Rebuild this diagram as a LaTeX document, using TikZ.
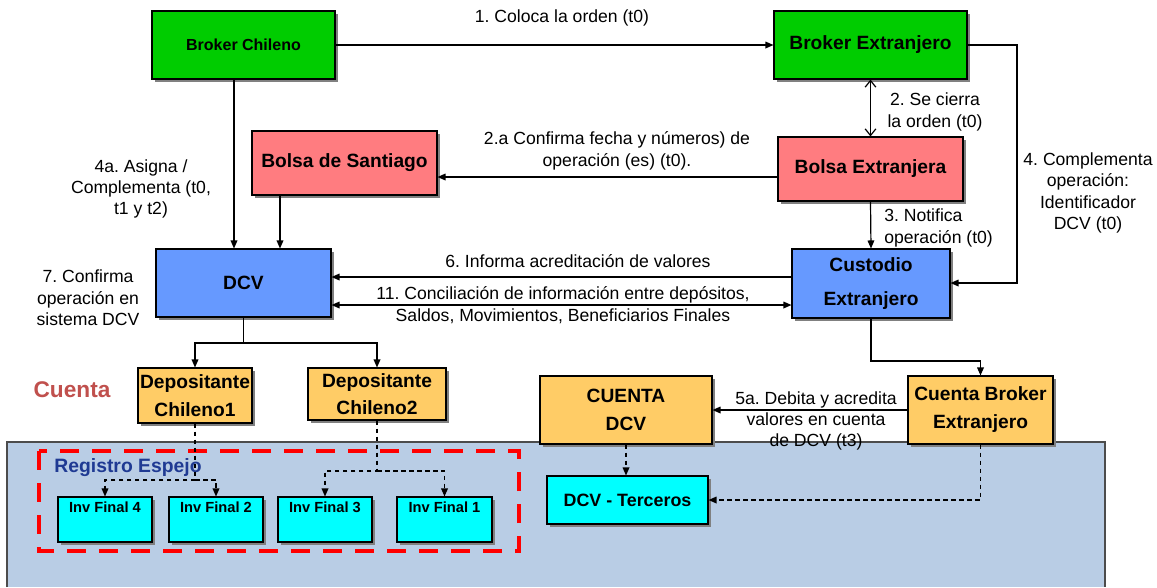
\documentclass[tikz,border=0pt]{standalone}
\usepackage{fontspec}
\setmainfont{Liberation Sans}
\frenchspacing
\usetikzlibrary{arrows.meta,shadows,calc}
\definecolor{cgreen}{HTML}{00CC00}
\definecolor{cpink}{HTML}{FF7C80}
\definecolor{cblue}{HTML}{6699FF}
\definecolor{corange}{HTML}{FFCC66}
\definecolor{ccyan}{HTML}{00FFFF}
\definecolor{cbg}{HTML}{B9CDE5}
\definecolor{cred}{HTML}{FF0000}
\definecolor{ccuenta}{HTML}{C0504D}
\definecolor{cregistro}{HTML}{1F3A93}
\begin{document}
\begin{tikzpicture}[x=0.75pt,y=-0.75pt,
  box/.style={draw=black, line width=0.8pt, inner sep=0pt, align=center,
    drop shadow={shadow xshift=2.6pt, shadow yshift=-2.6pt, fill=black!50, opacity=1},
    font=\bfseries\fontsize{14.4}{21}\selectfont},
  lbl/.style={inner sep=0pt, align=center, font=\fontsize{13.2}{16}\selectfont},
  arr/.style={-{Triangle[length=6pt,width=5pt]}, line width=0.9pt},
  darr/.style={{Triangle[length=6pt,width=5pt]}-{Triangle[length=6pt,width=5pt]}, line width=0.9pt},
  oarr/.style={{Straight Barb[length=5pt,width=8pt]}-{Straight Barb[length=5pt,width=8pt]}, line width=0.9pt},
  dsh/.style={-{Triangle[length=6pt,width=5pt]}, line width=0.9pt, dash pattern=on 3.5pt off 2.5pt},
  inv/.style={box, fill=ccyan, font=\bfseries\fontsize{11}{13}\selectfont, text height=11.6pt, text depth=22.1pt, minimum width=70.5pt, minimum height=33.75pt},
]
\useasboundingbox (0,0) rectangle (1157,587);
% background area
\fill[cbg] (7,442) rectangle (1105,587);
\draw[line width=0.8pt, black!70] (7,587) -- (7,442) -- (1105,442) -- (1105,587);
\draw[cred, line width=3pt, dash pattern=on 14pt off 10pt] (39,451) rectangle (519,551);

% boxes
\node[box, fill=cgreen, minimum width=137.25pt, minimum height=51pt, font=\bfseries\fontsize{12}{14}\selectfont] (bc) at (243.5,45) {Broker Chileno};
\node[box, fill=cgreen, minimum width=144.75pt, minimum height=51pt] (bext) at (870.5,45) {Broker Extranjero};
\node[box, fill=cpink, minimum width=138.75pt, minimum height=48pt] (bsan) at (344.5,163) {Bolsa de Santiago};
\node[box, fill=cpink, minimum width=138.75pt, minimum height=48pt] (bex) at (870.5,169) {Bolsa Extranjera};
\node[box, fill=cblue, minimum width=131.25pt, minimum height=51pt] (dcv) at (243.5,283) {DCV};
\node[box, fill=cblue, minimum width=118.5pt, minimum height=51.75pt, font=\bfseries\fontsize{14.4}{26}\selectfont] (cus) at (871,283.5) {Custodio\\Extranjero};
\node[box, fill=corange, minimum width=85.5pt, minimum height=41.25pt, font=\bfseries\fontsize{14.4}{21.5}\selectfont] (dep1) at (195,395.5) {Depositante\\Chileno1};
\node[box, fill=corange, minimum width=103.5pt, minimum height=39pt, font=\bfseries\fontsize{14.4}{20.5}\selectfont] (dep2) at (377,394) {Depositante\\Chileno2};
\node[box, fill=corange, minimum width=129pt, minimum height=51pt] (cdcv) at (626,410) {CUENTA\\DCV};
\node[box, fill=corange, minimum width=108.75pt, minimum height=51pt] (cbe) at (980.5,410) {Cuenta Broker\\Extranjero};
\node[box, fill=ccyan, minimum width=120.75pt, minimum height=36pt, font=\bfseries\fontsize{13.4}{16}\selectfont] (ter) at (627.5,500) {DCV - Terceros};
\node[inv] (inv4) at (105,519.5) {Inv Final 4};
\node[inv] (inv2) at (216,519.5) {Inv Final 2};
\node[inv] (inv3) at (325,519.5) {Inv Final 3};
\node[inv, minimum width=71.25pt] (inv1) at (444.5,519.5) {Inv Final 1};

% free texts
\node[inner sep=0pt, text=ccuenta, font=\bfseries\fontsize{17}{20}\selectfont] (cuenta) at (72,390) {Cuenta};
\node[inner sep=0pt, text=cregistro, font=\bfseries\fontsize{14.5}{17}\selectfont] (reg) at (128,468) {Registro Espejo};

% labels
\node[lbl] (l1) at (562,18) {1. Coloca la orden (t0)};
\node[lbl] (l2) at (935,112) {2. Se cierra\\la orden (t0)};
\node[lbl] (l2a) at (617,151) {2.a Confirma fecha y números) de\\operación (es) (t0).};
\node[lbl, anchor=west, align=left] (l3) at (884,228) {3. Notifica\\operación (t0)};
\node[lbl] (l4) at (1088,193) {4. Complementa\\operación:\\Identificador\\DCV (t0)};
\node[lbl] (l4a) at (141,189) {4a. Asigna /\\Complementa (t0,\\t1 y t2)};
\node[lbl] (l7) at (88,298) {7. Confirma\\operación en\\sistema DCV};
\node[lbl] (l6) at (578,261) {6. Informa acreditación de valores};
\node[lbl] (l11) at (563,305) {11. Conciliación de información entre depósitos,\\Saldos, Movimientos, Beneficiarios Finales};
\node[lbl] (l5a) at (816,421) {5a. Debita y acredita\\valores en cuenta\\de DCV (t3)};

% helper coordinates
\coordinate (c234) at (234,0);
\coordinate (c280) at (280,0);
\coordinate (y177) at (0,177);
\coordinate (y277) at (0,277);
\coordinate (y305) at (0,305);
\coordinate (y343) at (0,343);
\coordinate (y361) at (0,361);
\coordinate (y471) at (0,471);
\coordinate (y480) at (0,480);
\coordinate (r4) at (1017,283);

% connectors
\draw[arr] (bc.east) -- (bext.west);
\draw[oarr] (bext.south) -- (bex.north);
\draw[arr] (bex.west |- y177) -- (bsan.east |- y177);
\draw[arr] (bex.south) -- (cus.north);
\draw[arr] (bext.east) -| (r4) -- (cus.east |- r4);
\draw[arr] (bc.south -| c234) -- (dcv.north -| c234);
\draw[arr] (bsan.south -| c280) -- (dcv.north -| c280);
\draw[arr] (cus.west |- y277) -- (dcv.east |- y277);
\draw[darr] (dcv.east |- y305) -- (cus.west |- y305);
\draw[arr] (dcv.south) -- (dcv.south |- y343) -| (dep1.north);
\draw[arr] (dcv.south |- y343) -| (dep2.north);
\draw[arr] (cus.south) -- (cus.south |- y361) -| (cbe.north);
\draw[arr] (cbe.west) -- (cdcv.east);
\draw[dsh] (cbe.south) -- (cbe.south |- ter.east) -- (ter.east);
\draw[dsh] (cdcv.south) -- (cdcv.south |- ter.north);
\draw[dsh] (dep1.south) -- (dep1.south |- y480) -| (inv4.north);
\draw[dsh] (dep1.south |- y480) -| (inv2.north);
\draw[dsh] (dep2.south) -- (dep2.south |- y471) -| (inv3.north);
\draw[dsh] (dep2.south |- y471) -| (inv1.north);
\end{tikzpicture}
\end{document}
